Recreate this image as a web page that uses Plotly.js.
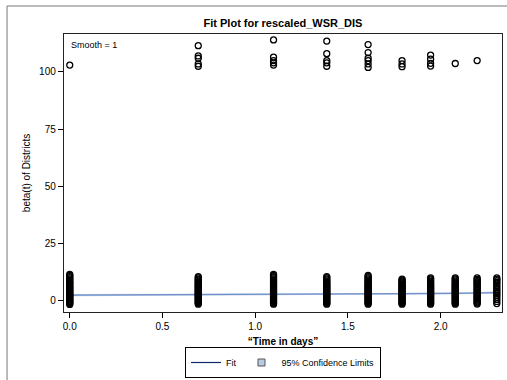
<!DOCTYPE html>
<html>
<head>
<meta charset="utf-8">
<script src="https://cdn.plot.ly/plotly-3.0.1.min.js"></script>
<style>html,body{margin:0;padding:0;background:#fff;}#chart{width:507px;height:380px;}</style>
</head>
<body>
<div id="chart"></div>
<script>
// x positions: log of day (days 1..10)
const timeValues = [0, 0.693, 1.099, 1.386, 1.609, 1.792, 1.946, 2.079, 2.197, 2.303];

const col0 = [-1.6,-1.2,-0.8,-0.4,0,0.3,0.7,1.0,1.4,1.8,2.1,2.5,2.9,3.2,3.6,4.0,4.4,4.8,5.2,5.6,6.0,6.4,6.9,7.3,7.8,8.2,8.7,9.1,9.6,10.1,10.6,11.1,11.5,103];
const col1 = [-1.5,-1.1,-0.7,-0.3,0.1,0.5,0.9,1.3,1.7,2.1,2.5,2.9,3.3,3.7,4.1,4.5,4.9,5.3,5.7,6.1,6.5,6.9,7.3,7.7,8.1,8.6,9.0,9.5,10.0,10.5,102.5,103.5,106,107,111.5];
const col2 = [-1.5,-1.1,-0.7,-0.3,0.1,0.5,0.9,1.3,1.7,2.1,2.5,2.9,3.3,3.7,4.1,4.5,4.9,5.3,5.7,6.1,6.5,6.9,7.3,7.8,8.2,8.7,9.1,9.6,10.1,10.6,11.1,11.5,103,104,105,106.5,114];
const col3 = [-1.5,-1.1,-0.7,-0.3,0.1,0.5,0.9,1.3,1.7,2.1,2.5,2.9,3.3,3.7,4.1,4.5,4.9,5.3,5.7,6.1,6.5,6.9,7.3,7.7,8.2,8.6,9.1,9.6,10.1,10.6,102.5,104,105,108,113.5];
const col4 = [-1.5,-1.1,-0.7,-0.3,0.1,0.5,0.9,1.3,1.7,2.1,2.5,2.9,3.3,3.7,4.1,4.5,4.9,5.3,5.7,6.1,6.5,6.9,7.3,7.8,8.2,8.7,9.1,9.6,10.1,10.6,11.1,102,103.5,105,106,108.5,112];
const col5 = [-1.5,-1.1,-0.7,-0.3,0.1,0.5,0.9,1.3,1.7,2.1,2.5,2.9,3.3,3.7,4.1,4.5,4.9,5.3,5.7,6.1,6.5,6.9,7.3,7.7,8.2,8.6,9.0,9.5,102.3,103.5,105];
const col6 = [-1.5,-1.1,-0.7,-0.3,0.1,0.5,0.9,1.3,1.7,2.1,2.5,2.9,3.3,3.7,4.1,4.5,4.9,5.3,5.7,6.1,6.5,6.9,7.3,7.7,8.2,8.6,9.1,9.6,10.0,102.6,103.8,105.6,107.4];
const col7 = [-1.5,-1.1,-0.7,-0.3,0.1,0.5,0.9,1.3,1.7,2.1,2.5,2.9,3.3,3.7,4.1,4.5,4.9,5.3,5.7,6.1,6.5,6.9,7.3,7.7,8.2,8.6,9.1,9.6,10.0,103.7];
const col8 = [-1.4,-0.9,-0.5,0,0.4,0.9,1.4,1.8,2.3,2.8,3.3,3.8,4.4,4.9,5.4,5.9,6.4,6.9,7.4,7.9,8.4,8.9,9.4,10.0,105];
const col9 = [-1.2,-0.3,0.6,1.5,2.3,3.0,3.6,4.3,5.0,5.8,6.6,7.4,8.1,8.8,9.4,10.0];
const columns = [col0,col1,col2,col3,col4,col5,col6,col7,col8,col9];

// fit and 95% confidence limits
const fitValues = [2.5, 2.65, 2.75, 2.85, 2.95, 3.0, 3.1, 3.2, 3.4, 3.6];
const lowerCL  = [2.0, 2.3, 2.4, 2.5, 2.6, 2.65, 2.75, 2.85, 3.0, 3.1];
const upperCL  = [3.0, 3.0, 3.1, 3.2, 3.3, 3.35, 3.45, 3.55, 3.8, 4.1];

const ptsX = [], ptsY = [];
columns.forEach((col, i) => col.forEach(v => { ptsX.push(timeValues[i]); ptsY.push(v); }));

const font = 'Arial, "Liberation Sans", sans-serif';

const traces = [
  {
    x: timeValues.concat(timeValues.slice().reverse()),
    y: upperCL.concat(lowerCL.slice().reverse()),
    type: 'scatter', mode: 'lines', fill: 'toself',
    fillcolor: 'rgba(180,198,230,0.85)',
    line: {color: 'rgba(180,198,230,0.85)', width: 0},
    showlegend: false, hoverinfo: 'skip'
  },
  {
    x: timeValues, y: fitValues, type: 'scatter', mode: 'lines',
    line: {color: '#6f90c8', width: 1.2},
    showlegend: false
  },
  {
    x: [null], y: [null], type: 'scatter', mode: 'lines',
    line: {color: '#0a2a6b', width: 1.2},
    name: 'Fit', legendrank: 1
  },
  {
    x: [null], y: [null], type: 'scatter', mode: 'markers',
    marker: {symbol: 'square', size: 7, color: '#b9cae6', line: {width: 1, color: '#555'}},
    name: '95% Confidence Limits', legendrank: 2
  },
  {
    x: ptsX, y: ptsY, type: 'scatter', mode: 'markers',
    marker: {symbol: 'circle-open', size: 6, color: '#000', line: {width: 1.3, color: '#000'}},
    showlegend: false
  }
];

const layout = {
  width: 507, height: 380,
  margin: {l: 64, r: 5, t: 34, b: 68},
  paper_bgcolor: '#fff', plot_bgcolor: '#fff',
  font: {family: font, size: 10, color: '#000'},
  showlegend: true,
  title: {text: '<b>Fit Plot for rescaled_WSR_DIS</b>', font: {family: font, size: 11, color: '#000'},
          x: 0.5, xref: 'paper', xanchor: 'center', y: 1 - 23/380, yref: 'container', yanchor: 'middle'},
  xaxis: {
    range: [-0.031, 2.331], tickvals: [0, 0.5, 1, 1.5, 2], ticktext: ['0.0','0.5','1.0','1.5','2.0'],
    ticks: 'outside', ticklen: 5, tickcolor: '#000', tickwidth: 1,
    showline: true, linecolor: '#222', linewidth: 1.2, mirror: true,
    showgrid: false, zeroline: false, automargin: false,
    tickfont: {family: font, size: 10, color: '#000'},
    title: {text: '<b>\u201cTime in days\u201d</b>', font: {family: font, size: 10, color: '#000'}, standoff: 10}
  },
  yaxis: {
    range: [-4.9, 116.6], tickvals: [0, 25, 50, 75, 100],
    ticks: 'outside', ticklen: 5, tickcolor: '#000', tickwidth: 1,
    showline: true, linecolor: '#222', linewidth: 1.2, mirror: true,
    showgrid: false, zeroline: false, automargin: false,
    tickfont: {family: font, size: 10, color: '#000'},
    title: {text: 'beta(t) of Districts', font: {family: font, size: 10, color: '#000'}, standoff: 6}
  },
  legend: {
    orientation: 'h', x: 0.5, xanchor: 'center', xref: 'paper',
    y: 2/380, yanchor: 'bottom', yref: 'container',
    bordercolor: '#000', borderwidth: 1, bgcolor: '#fff',
    font: {family: font, size: 9, color: '#000'}, traceorder: 'normal',
    itemwidth: 30, tracegroupgap: 0
  },
  annotations: [{
    text: 'Smooth = 1', xref: 'paper', yref: 'paper', x: 0.012, y: 0.985,
    xanchor: 'left', yanchor: 'top', showarrow: false,
    font: {family: font, size: 9, color: '#000'}
  }],
  shapes: [{
    type: 'rect', xref: 'paper', yref: 'paper',
    x0: -0.130, x1: 1.1, y0: -0.4, y1: 1.1007,
    line: {color: '#777', width: 1}, fillcolor: 'rgba(0,0,0,0)', layer: 'below'
  }]
};

Plotly.newPlot('chart', traces, layout, {displayModeBar: false, staticPlot: true});
</script>
</body>
</html>
